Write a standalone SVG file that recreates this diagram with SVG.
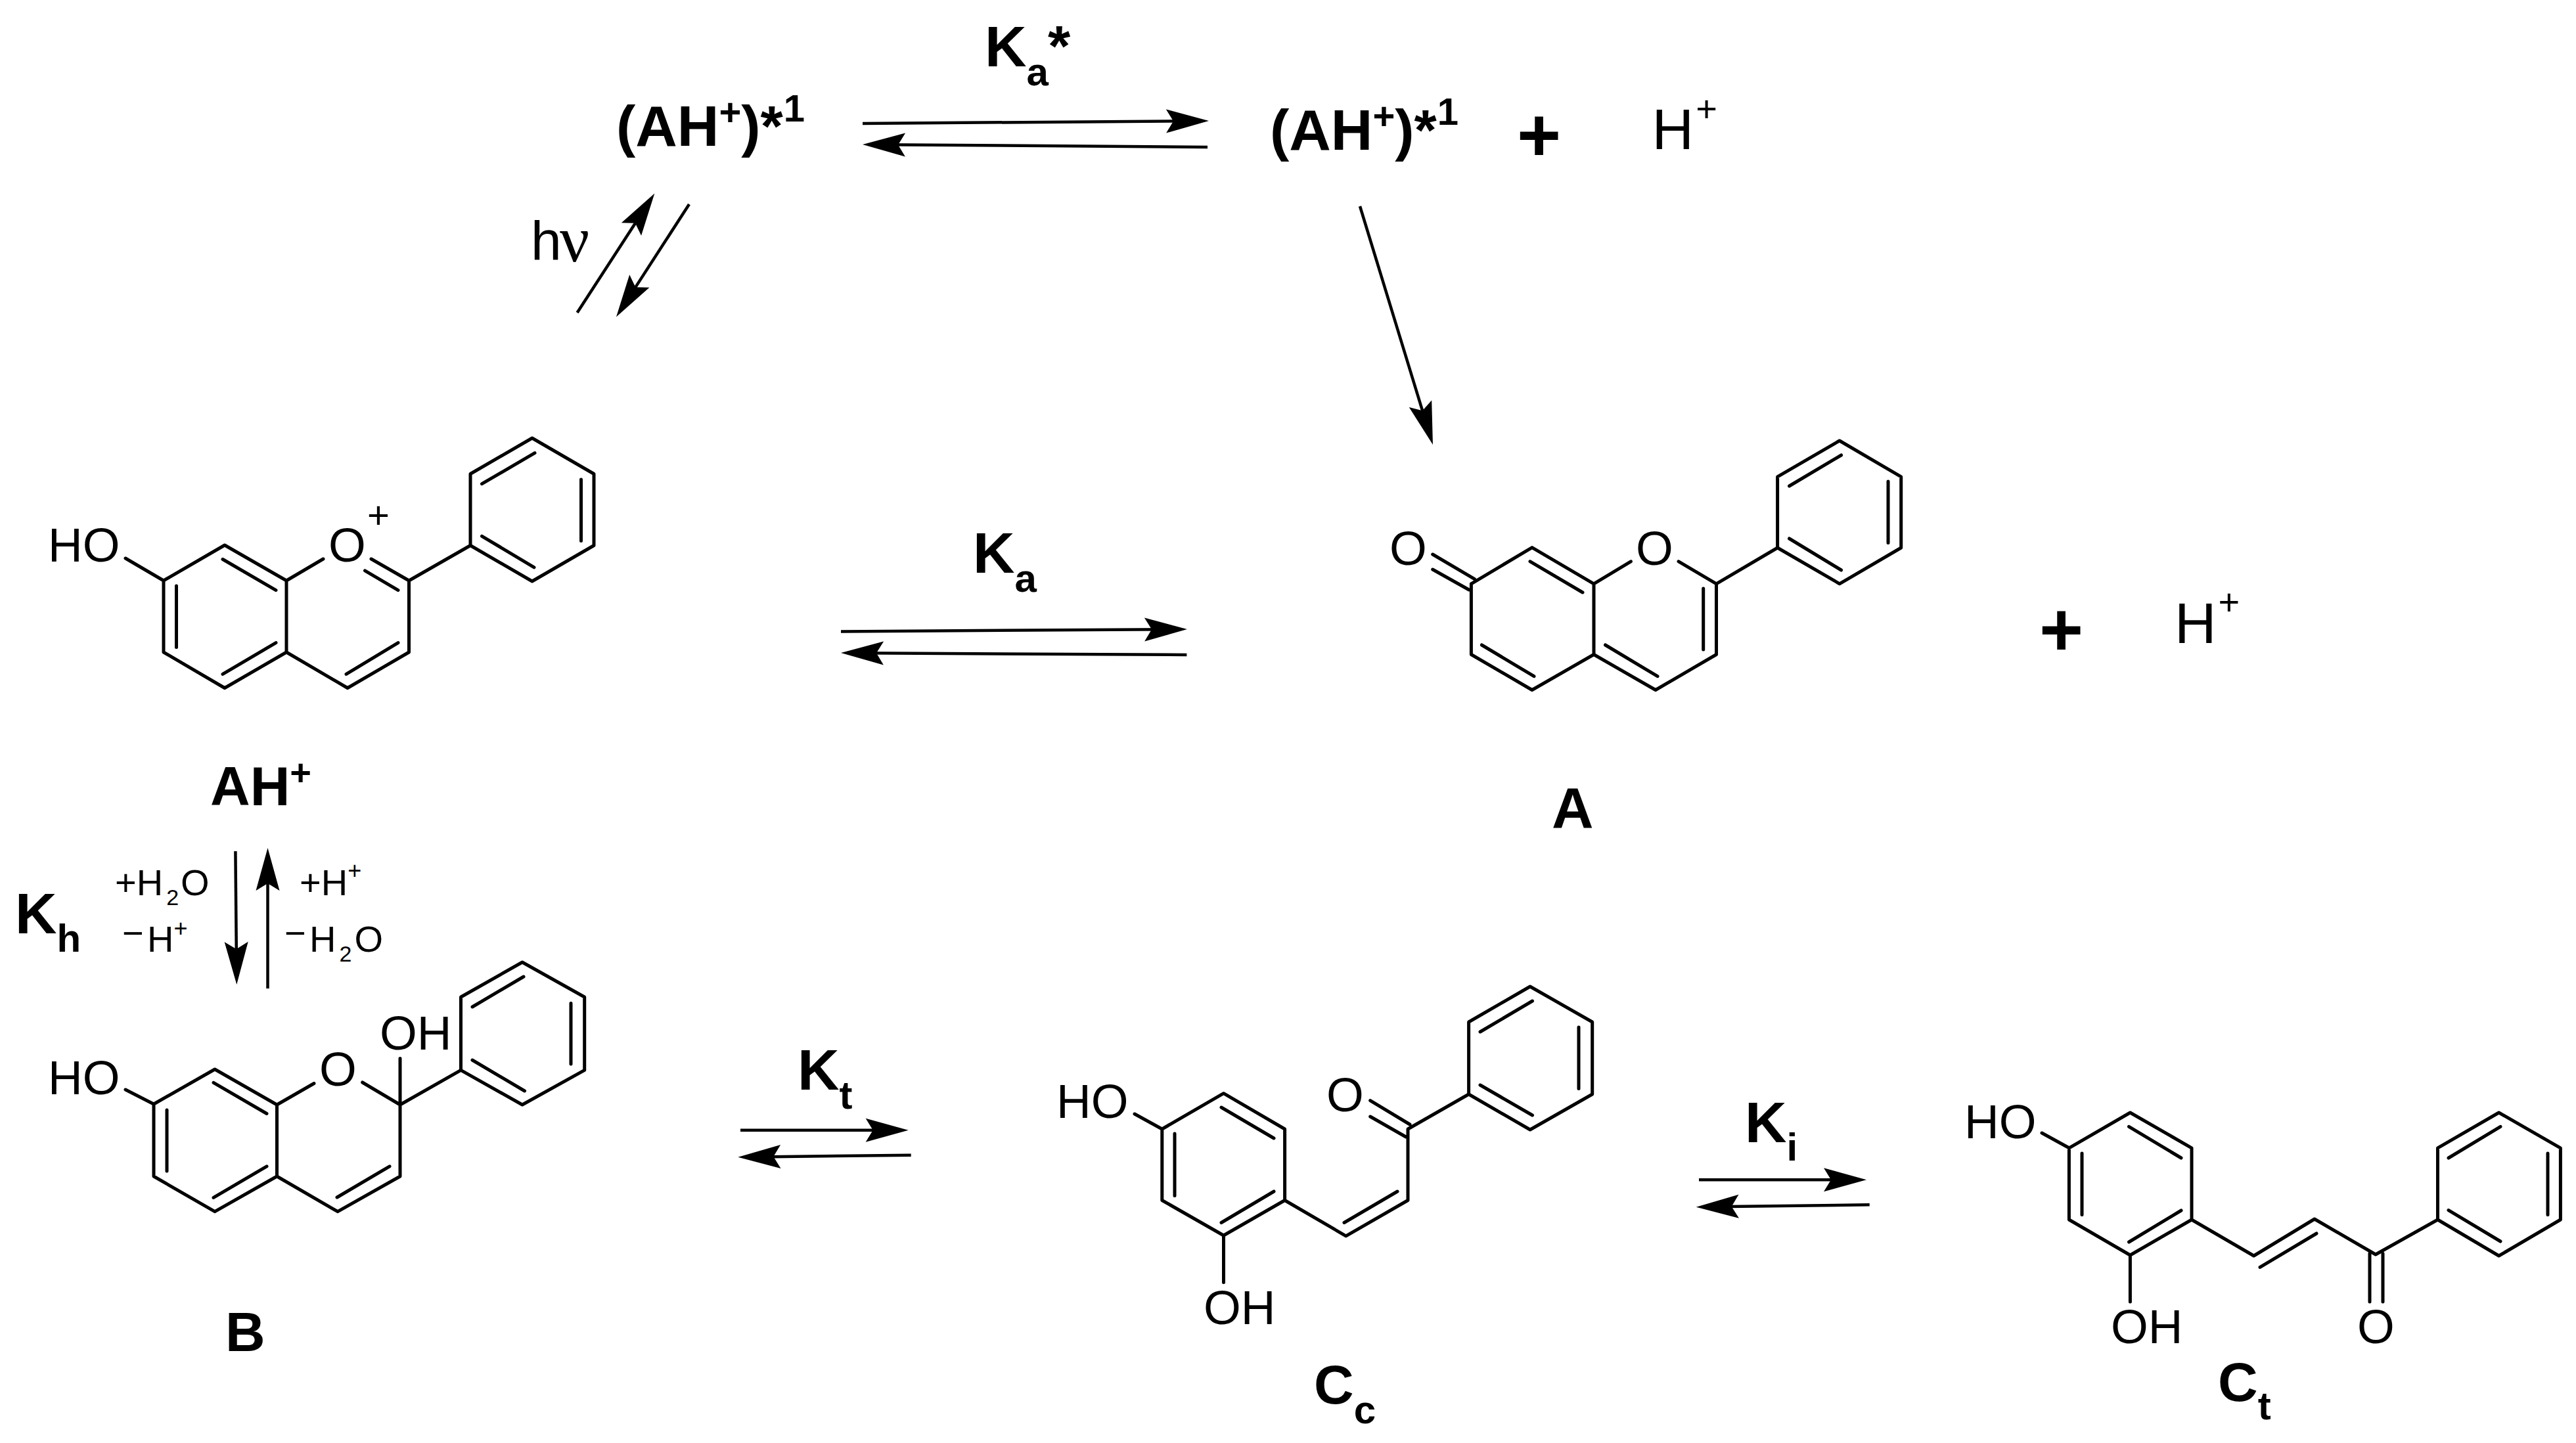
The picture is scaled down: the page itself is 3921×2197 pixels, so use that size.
<svg xmlns="http://www.w3.org/2000/svg" width="3921" height="2197" viewBox="0 0 3921 2197">
<style>
text{font-family:"Liberation Sans",Arial,sans-serif;fill:#000}
.b{font-weight:700;font-size:88px}
.sub{font-size:60px}
.sup{font-size:58px}
.a{font-size:73px}
.s{font-size:56px}
.bond{fill:none;stroke:#000;stroke-width:5;stroke-linecap:round;stroke-linejoin:round}
.arrow{fill:none;stroke:#000;stroke-width:4.5;stroke-linecap:butt;marker-end:url(#head)}
</style>
<defs>
<marker id="head" markerUnits="userSpaceOnUse" markerWidth="70" markerHeight="40" refX="35" refY="20" orient="auto" overflow="visible">
<path d="M0,2 L65,20 L0,38 L11,20 Z" fill="#000"/>
</marker>
</defs>
<rect width="3921" height="2197" fill="#fff"/>

<g id="connectors">
<line class="arrow" x1="1313" y1="188" x2="1810" y2="184.2"/>
<line class="arrow" x1="1838" y1="224" x2="1343" y2="220.2"/>
<line class="arrow" x1="878.6" y1="476" x2="980" y2="319.7"/>
<line class="arrow" x1="1049" y1="311" x2="954.3" y2="457.4"/>
<line class="arrow" x1="2070" y1="314" x2="2172.2" y2="648.3"/>
<line class="arrow" x1="1280" y1="961.4" x2="1777" y2="958.2"/>
<line class="arrow" x1="1806.4" y1="997" x2="1310" y2="994.2"/>
<line class="arrow" x1="358.4" y1="1296" x2="360" y2="1469"/>
<line class="arrow" x1="407.5" y1="1505" x2="407.5" y2="1321"/>
<line class="arrow" x1="1127" y1="1720.7" x2="1352.7" y2="1720.7"/>
<line class="arrow" x1="1386.7" y1="1758.7" x2="1153.3" y2="1761.4"/>
<line class="arrow" x1="2586" y1="1796.3" x2="2811" y2="1796.3"/>
<line class="arrow" x1="2845.7" y1="1834.3" x2="2611.7" y2="1837.3"/>
</g>

<g id="excited-left">
<text class="b" x="938" y="221.5">(AH<tspan class="sup" dy="-31">+</tspan><tspan dy="31">)*</tspan><tspan class="sup" dx="1" dy="-37">1</tspan></text>
</g>
<g id="excited-right">
<text class="b" x="1933" y="228">(AH<tspan class="sup" dy="-31">+</tspan><tspan dy="31">)*</tspan><tspan class="sup" dx="1" dy="-38">1</tspan></text>
<text class="b" x="2309" y="245" style="font-size:115px">+</text>
<text style="font-size:88px" x="2514.6" y="227">H<tspan class="s" dx="3" dy="-42">+</tspan></text>
</g>
<g id="label-ka-star">
<text class="b" x="1499" y="101">K<tspan class="sub" dy="29">a</tspan></text>
<text class="b" x="1595" y="100">*</text>
</g>
<g id="label-hv">
<text style="font-size:84px" x="808" y="396">h</text>
<text style="font-family:'Liberation Serif',serif;font-size:100px" x="852" y="398">ν</text>
</g>

<g id="AH">
<path class="bond" d="M191,850 L249,884 L342,830 L436,884 L492,851 M436,884 L436,993 L342,1047.5 L249,993 L249,884 M565,851 L622.5,884 L622.5,993 L529,1047.5 L436,993 M622.5,884 L716,830.5 L716,721.5 L810,667 L904,721.5 L904,830.5 L810,885 L716,830.5 M339,851.5 L420,898.6 M268.5,892 L268.5,985.5 M420,978.6 L339,1026.4 M555.5,868.8 L606,898.6 M606,978.6 L527,1026.4 M814,689.7 L733.5,736.7 M884.5,730 L884.5,823.6 M733.5,816.3 L813,863.8"/>
<text class="a" x="73" y="855">HO</text>
<text class="a" x="500" y="855">O</text>
<text style="font-size:58px" x="559" y="804">+</text>
<text class="b" x="320" y="1226" style="font-size:84px">AH<tspan class="s" dy="-31">+</tspan></text>
</g>

<g id="A">
<path class="bond" d="M2180.7,844 L2244.5,881.7 M2180.7,867 L2236,898 M2239.4,888.8 L2332,833.6 L2426,888.8 L2482.4,854.8 M2426,888.8 L2426,996.5 L2332,1050.5 L2239.4,996.5 L2239.4,888.8 M2555,854.8 L2612.5,888.8 L2612.5,996.5 L2520,1050.5 L2426,996.5 M2612.5,888.8 L2705.6,834 L2705.6,725.8 L2800,671 L2893.7,725.8 L2893.7,834 L2800,888.8 L2705.6,834 M2329,854.8 L2409,902 M2255.4,982 L2335,1029.7 M2592.7,896 L2592.7,989 M2443.5,982 L2523,1029.7 M2802.6,693 L2723.5,740 M2874,733 L2874,826.6 M2723.5,820 L2802.6,868"/>
<text class="a" x="2115" y="860">O</text>
<text class="a" x="2490" y="860">O</text>
<text class="b" x="2362" y="1260">A</text>
</g>
<g id="plus-proton">
<text class="b" x="3104" y="998" style="font-size:115px">+</text>
<text style="font-size:88px" x="3310" y="979">H<tspan class="s" dx="3" dy="-43">+</tspan></text>
</g>
<g id="label-ka">
<text class="b" x="1481" y="872">K<tspan class="sub" dy="29">a</tspan></text>
</g>

<g id="label-kh">
<text class="b" x="23" y="1421">K<tspan class="sub" dy="28">h</tspan></text>
<text class="s" x="175" y="1363">+H<tspan dx="5" dy="15" style="font-size:34px">2</tspan><tspan dx="3" dy="-15">O</tspan></text>
<text class="s" x="186" y="1449"><tspan dy="-9">−</tspan><tspan x="224" dy="9">H</tspan><tspan dy="-23" style="font-size:36px">+</tspan></text>
<text class="s" x="456" y="1363">+H<tspan dy="-25" style="font-size:36px">+</tspan></text>
<text class="s" x="433" y="1449"><tspan dy="-9">−</tspan><tspan x="471" dy="9">H</tspan><tspan dx="5" dy="15" style="font-size:34px">2</tspan><tspan dx="4" dy="-15">O</tspan></text>
</g>

<g id="B">
<path class="bond" d="M191,1659 L234,1681 L327,1628 L421.5,1682 L478,1649.5 M421.5,1682 L421.5,1791 L327,1844.6 L234,1791 L234,1681 M551.7,1648 L609,1682 L609,1791 L514,1844.6 L421.5,1791 M609,1611.5 L609,1682 L701.5,1629.4 L701.5,1518 L795,1465 L889.7,1518 L889.7,1629.4 L795,1682 L701.5,1629.4 M325,1648.4 L406,1695.5 M254,1690 L254,1783 M406,1775.8 L325,1823.4 M593,1775.8 L513,1823 M797,1487 L719,1533 M869,1527.5 L869,1620 M719,1614 L798.5,1661"/>
<text class="a" x="73" y="1666">HO</text>
<text class="a" x="486" y="1653">O</text>
<text class="a" x="578" y="1598">OH</text>
<text class="b" x="343" y="2057" style="font-size:84px">B</text>
</g>
<g id="label-kt">
<text class="b" x="1214" y="1659">K<tspan class="sub" dy="29">t</tspan></text>
</g>

<g id="Cc">
<path class="bond" d="M1727,1696 L1768.8,1719 L1862.5,1664.7 L1955.6,1719 L1955.6,1827.5 L1862.5,1881 L1768.8,1827.5 L1768.8,1719 M1862.5,1881 L1862.5,1952.6 M1955.6,1827.5 L2048.7,1881.8 L2143,1827.5 L2143,1719 L2235.6,1666 L2235.6,1556 L2329,1502 L2423.7,1556 L2423.7,1666 L2329,1720 L2235.6,1666 M2085.7,1675.6 L2146,1712 M2085.7,1700 L2140,1731 M1859,1686 L1939,1733 M1788,1726 L1788,1820.5 M1939,1814 L1859,1861.5 M2046,1861.5 L2127,1814 M2332.5,1524 L2253,1571 M2403,1564 L2403,1657.6 M2253,1652 L2332.5,1698"/>
<text class="a" x="1608" y="1702">HO</text>
<text class="a" x="1832" y="2016">OH</text>
<text class="a" x="2019" y="1692">O</text>
<text class="b" x="2000" y="2137" style="font-size:84px">C<tspan class="sub" dy="30">c</tspan></text>
</g>
<g id="label-ki">
<text class="b" x="2656" y="1739">K<tspan class="sub" dy="28">i</tspan></text>
</g>

<g id="Ct">
<path class="bond" d="M3108,1725 L3149.4,1747.8 L3242.4,1694 L3336,1747.8 L3336,1857 L3242.4,1911 L3149.4,1857 L3149.4,1747.8 M3242.4,1911 L3242.4,1982 M3336,1857 L3430.6,1912 L3523,1856 L3616,1910 L3710.5,1857 L3710.5,1747.8 L3803.6,1694 L3897.4,1747.8 L3897.4,1857 L3803.6,1912 L3710.5,1857 M3607,1908.5 L3607,1982 M3627,1908.5 L3627,1982 M3240.5,1715.4 L3320,1763 M3169,1756 L3169,1849.4 M3320,1843 L3240.5,1891 M3440,1929.4 L3526,1878 M3806,1715.4 L3727,1763 M3878,1756 L3878,1849.4 M3727,1842.6 L3806,1890"/>
<text class="a" x="2990" y="1733">HO</text>
<text class="a" x="3213" y="2045">OH</text>
<text class="a" x="3588" y="2045">O</text>
<text class="b" x="3376" y="2133" style="font-size:84px">C<tspan class="sub" dy="28">t</tspan></text>
</g>
</svg>
